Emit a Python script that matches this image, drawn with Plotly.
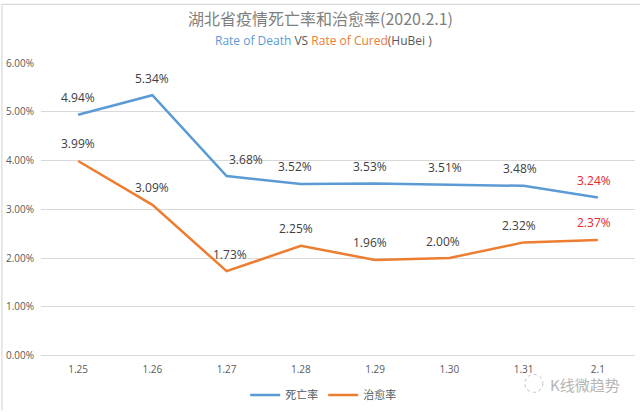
import plotly.graph_objects as go

dates = ["1.25", "1.26", "1.27", "1.28", "1.29", "1.30", "1.31", "2.1"]
death_rate = [4.94, 5.34, 3.68, 3.52, 3.53, 3.51, 3.48, 3.24]
cured_rate = [3.99, 3.09, 1.73, 2.25, 1.96, 2.00, 2.32, 2.37]
y_ticks = [0, 1, 2, 3, 4, 5, 6]
y_tick_text = [f"{v:.2f}%" for v in y_ticks]

# label horizontal nudges (pixels), as Excel placed them
death_dx = [0, 0, 19, -6, -5, -4, -4, -4]
cured_dx = [0, 0, 3, -5, -5, -6, -5, -4]

BLUE = "#5b9bd5"
ORANGE = "#ed7d31"
FONT = "Open Sans, Noto Sans CJK SC, sans-serif"

fig = go.Figure()
fig.add_trace(go.Scatter(x=dates, y=death_rate, mode="lines", name="死亡率",
                         line=dict(color=BLUE, width=2.5)))
fig.add_trace(go.Scatter(x=dates, y=cured_rate, mode="lines", name="治愈率",
                         line=dict(color=ORANGE, width=2.5)))

annotations = []
n = len(dates)
for series, dx in ((death_rate, death_dx), (cured_rate, cured_dx)):
    for i, v in enumerate(series):
        color = "#e8262b" if i == n - 1 else "#404040"
        # category index i positions the label on its date
        annotations.append(dict(x=i, y=v, text=f"{v:.2f}%", showarrow=False,
                                xanchor="center", yanchor="middle",
                                yshift=17, xshift=dx[i],
                                font=dict(family=FONT, size=12, color=color)))

# titles
annotations.append(dict(xref="paper", yref="paper", x=(320 - 41) / 593, y=(357 - 18) / 294,
                        text="湖北省疫情死亡率和治愈率(2020.2.1)", showarrow=False,
                        xanchor="center", yanchor="middle",
                        font=dict(family="Noto Sans CJK SC, Open Sans", size=16, color="#7f7f7f")))
annotations.append(dict(xref="paper", yref="paper", x=(323 - 41) / 593, y=(357 - 40) / 294,
                        text=f"<span style='color:{BLUE}'>Rate of Death</span> VS "
                             f"<span style='color:{ORANGE}'>Rate of Cured</span>(HuBei )",
                        showarrow=False, xanchor="center", yanchor="middle",
                        font=dict(family=FONT, size=12, color="#595959")))
# watermark
annotations.append(dict(xref="paper", yref="paper", x=(584 - 41) / 593, y=(357 - 386) / 294,
                        text="K线微趋势", showarrow=False, xanchor="center", yanchor="middle",
                        font=dict(family="Noto Sans CJK SC, Open Sans", size=15, color="#b5b5b5")))

shapes = [
    # chart frame (left and top border of the embedded chart)
    dict(type="line", xref="paper", yref="paper", x0=(2 - 41) / 593, x1=(2 - 41) / 593,
         y0=(357 - 4) / 294, y1=(357 - 412) / 294, line=dict(color="#d0d0d0", width=1)),
    dict(type="line", xref="paper", yref="paper", x0=(2 - 41) / 593, x1=(640 - 41) / 593,
         y0=(357 - 4) / 294, y1=(357 - 4) / 294, line=dict(color="#d0d0d0", width=1)),
    # watermark icon
    dict(type="circle", xref="paper", yref="paper",
         x0=(524 - 41) / 593, x1=(542 - 41) / 593,
         y0=(357 - 394) / 294, y1=(357 - 376) / 294,
         line=dict(color="#c0c0c0", width=1, dash="dot")),
]

fig.update_layout(
    width=640, height=412,
    margin=dict(l=41, r=5, t=63, b=55),
    paper_bgcolor="white", plot_bgcolor="white",
    showlegend=True,
    legend=dict(orientation="h", xref="container", yref="container",
                x=0.505, y=(412 - 395) / 412, xanchor="center", yanchor="middle",
                font=dict(family="Noto Sans CJK SC, Open Sans", size=11, color="#595959"),
                itemwidth=30, tracegroupgap=0),
    annotations=annotations,
    shapes=shapes,
    xaxis=dict(type="category", range=[-0.5, n - 0.5], showgrid=False,
               showline=False, zeroline=False, ticks="",
               tickfont=dict(family=FONT, size=10, color="#595959"),
               ticklabelstandoff=6),
    yaxis=dict(range=[0, 6], tickvals=y_ticks, ticktext=y_tick_text,
               showgrid=True, gridcolor="#d9d9d9", gridwidth=1,
               zeroline=True, zerolinecolor="#d9d9d9", zerolinewidth=1,
               showline=False, ticks="",
               tickfont=dict(family=FONT, size=10, color="#595959"),
               ticklabelstandoff=6),
)

fig.write_html("out.html")
